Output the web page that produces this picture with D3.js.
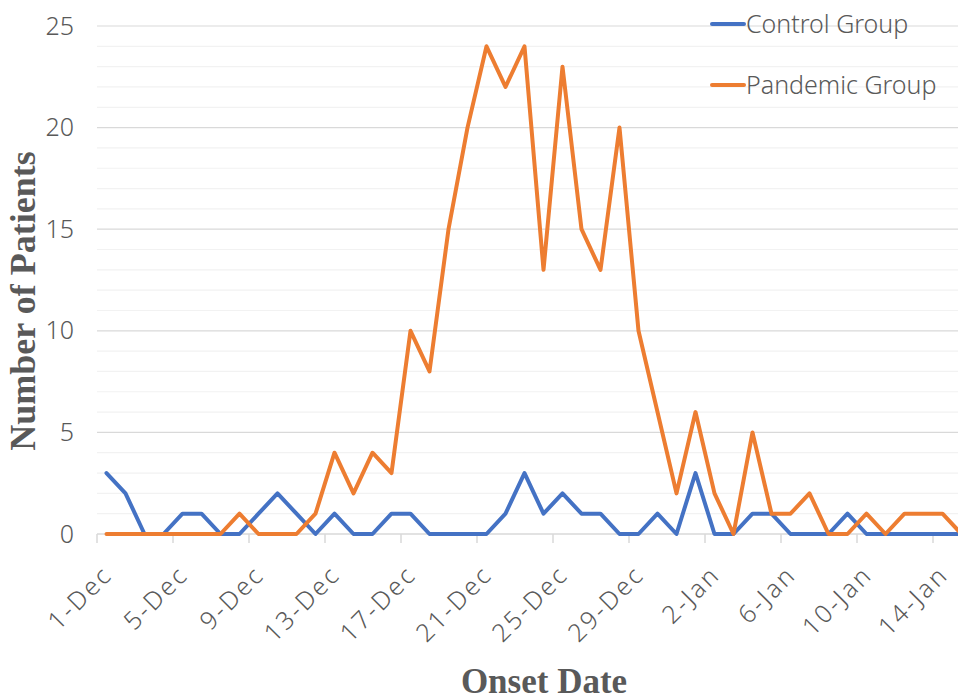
<!DOCTYPE html>
<html>
<head>
<meta charset="utf-8">
<script src="https://cdn.jsdelivr.net/npm/d3@7"></script>
<style>
  html, body { margin: 0; padding: 0; background: #fff; }
  svg { display: block; }
</style>
</head>
<body>
<svg id="chart" width="958" height="700"></svg>
<script>
// Onset dates, 1-Dec to 15-Jan
const decDays = d3.range(1, 32).map(d => `${d}-Dec`);
const janDays = d3.range(1, 16).map(d => `${d}-Jan`);
const dates = decDays.concat(janDays);

const controlGroup = [3, 2, 0, 0, 1, 1, 0, 0, 1, 2, 1, 0, 1, 0, 0, 1, 1, 0, 0, 0, 0, 1, 3, 1, 2, 1, 1, 0, 0, 1, 0,
  3, 0, 0, 1, 1, 0, 0, 0, 1, 0, 0, 0, 0, 0, 0];
const pandemicGroup = [0, 0, 0, 0, 0, 0, 0, 1, 0, 0, 0, 1, 4, 2, 4, 3, 10, 8, 15, 20, 24, 22, 24, 13, 23, 15, 13, 20, 10, 6, 2,
  6, 2, 0, 5, 1, 1, 2, 0, 0, 1, 0, 1, 1, 1, 0];

const xTickLabels = ['1-Dec', '5-Dec', '9-Dec', '13-Dec', '17-Dec', '21-Dec', '25-Dec', '29-Dec',
  '2-Jan', '6-Jan', '10-Jan', '14-Jan'];
const yTicks = [0, 5, 10, 15, 20, 25];
const yMinor = d3.range(0, 26);

const seriesList = [
  { name: 'Control Group', values: controlGroup, color: '#4472C4' },
  { name: 'Pandemic Group', values: pandemicGroup, color: '#ED7D31' }
];

const svg = d3.select('#chart');
const labelFont = '"Noto Sans", "Open Sans", sans-serif';
const titleFont = '"Liberation Serif", "Times New Roman", serif';
const textColor = '#595959';

// plot area (runs past the right edge, the reference is cropped there)
const plot = { left: 97, right: 971, top: 26, bottom: 534 };

const x = d3.scaleBand()
  .domain(dates)
  .range([plot.left, plot.right]);

const y = d3.scaleLinear()
  .domain([0, 25])
  .range([plot.bottom, plot.top]);

// Gridlines: light every 1, darker every 5
svg.append('g')
  .attr('class', 'grid-minor')
  .selectAll('line')
  .data(yMinor.filter(v => v % 5 !== 0))
  .enter()
  .append('line')
  .attr('x1', plot.left)
  .attr('x2', plot.right)
  .attr('y1', d => y(d))
  .attr('y2', d => y(d))
  .attr('stroke', '#f2f2f2')
  .attr('stroke-width', 1.2);

svg.append('g')
  .attr('class', 'grid-major')
  .selectAll('line')
  .data(yTicks.filter(v => v > 0))
  .enter()
  .append('line')
  .attr('x1', plot.left)
  .attr('x2', plot.right)
  .attr('y1', d => y(d))
  .attr('y2', d => y(d))
  .attr('stroke', '#d9d9d9')
  .attr('stroke-width', 1.2);

// Y axis labels
const yAxis = svg.append('g')
  .attr('transform', `translate(${plot.left},0)`)
  .call(d3.axisLeft(y).tickValues(yTicks).tickSize(0).tickPadding(23));
yAxis.select('.domain').remove();
yAxis.selectAll('text')
  .attr('font-family', labelFont)
  .attr('font-weight', 300)
  .attr('font-size', '25px')
  .attr('fill', textColor);

// X axis line + tick marks between categories
svg.append('line')
  .attr('x1', plot.left)
  .attr('x2', plot.right)
  .attr('y1', y(0))
  .attr('y2', y(0))
  .attr('stroke', '#d9d9d9')
  .attr('stroke-width', 1.5);

svg.append('g')
  .selectAll('line')
  .data(xTickLabels)
  .enter()
  .append('line')
  .attr('x1', d => x(d))
  .attr('x2', d => x(d))
  .attr('y1', y(0))
  .attr('y2', y(0) + 9)
  .attr('stroke', '#d9d9d9')
  .attr('stroke-width', 1.5);

// X category labels, rotated
svg.append('g')
  .selectAll('text')
  .data(xTickLabels)
  .enter()
  .append('text')
  .attr('transform', d => `translate(${x(d) + x.bandwidth() / 2 + 1},${y(0) + 36}) rotate(-45)`)
  .attr('text-anchor', 'end')
  .attr('dy', '0.35em')
  .attr('font-family', labelFont)
  .attr('font-weight', 300)
  .attr('font-size', '25px')
  .attr('letter-spacing', '2.5px')
  .attr('fill', textColor)
  .text(d => d);

// Series lines
const line = d3.line()
  .x((d, i) => x(dates[i]) + x.bandwidth() / 2)
  .y(d => y(d));

svg.append('g')
  .selectAll('path')
  .data(seriesList)
  .enter()
  .append('path')
  .attr('d', d => line(d.values))
  .attr('fill', 'none')
  .attr('stroke', d => d.color)
  .attr('stroke-width', 4)
  .attr('stroke-linejoin', 'round')
  .attr('stroke-linecap', 'round');

// Legend
const legend = svg.append('g')
  .selectAll('g')
  .data(seriesList)
  .enter()
  .append('g')
  .attr('transform', (d, i) => `translate(712,${24 + i * 61})`);

legend.append('line')
  .attr('x1', 0)
  .attr('x2', 32)
  .attr('stroke', d => d.color)
  .attr('stroke-width', 4)
  .attr('stroke-linecap', 'round');

legend.append('text')
  .attr('x', 34)
  .attr('dy', '0.36em')
  .attr('font-family', labelFont)
  .attr('font-weight', 300)
  .attr('font-size', '25px')
  .attr('fill', textColor)
  .text(d => d.name);

// Axis titles
svg.append('text')
  .attr('transform', `translate(35,301) rotate(-90)`)
  .attr('text-anchor', 'middle')
  .attr('font-family', titleFont)
  .attr('font-weight', 'bold')
  .attr('font-size', '36px')
  .attr('fill', textColor)
  .text('Number of Patients');

svg.append('text')
  .attr('x', 544)
  .attr('y', 693)
  .attr('text-anchor', 'middle')
  .attr('font-family', titleFont)
  .attr('font-weight', 'bold')
  .attr('font-size', '35px')
  .attr('fill', textColor)
  .text('Onset Date');
</script>
</body>
</html>
